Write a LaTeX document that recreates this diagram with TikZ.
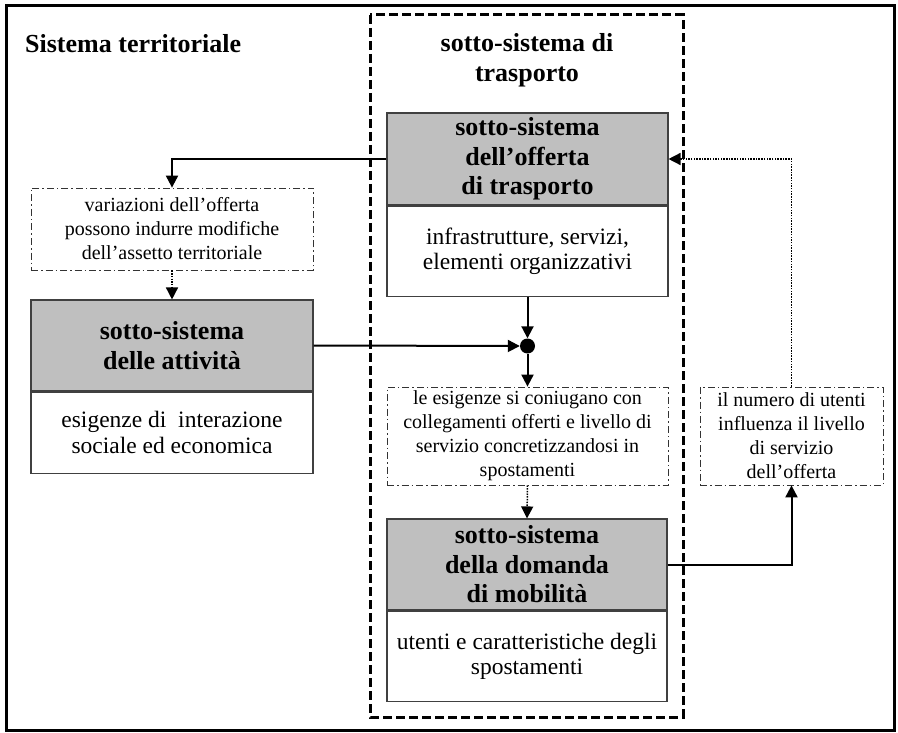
\documentclass[tikz,border=0pt]{standalone}
\usepackage{fontspec}
\setmainfont{Liberation Serif}
\usetikzlibrary{arrows.meta}

\begin{document}
\begin{tikzpicture}[x=1pt,y=-1pt,
  headbox/.style={draw=black!75, line width=1.1pt, fill=gray!50, inner sep=0pt,
    align=center, font=\fontsize{26}{29.5}\selectfont\bfseries},
  bodybox/.style={draw=black!75, line width=1.1pt, fill=white, inner sep=0pt,
    align=center, font=\fontsize{23.5}{25.5}\selectfont},
  notebox/.style={draw=black!80, line width=0.8pt,
    dash pattern=on 7pt off 3pt on 1.5pt off 3pt, inner sep=0pt,
    align=center, font=\fontsize{20}{24}\selectfont},
  flow/.style={line width=2pt, -{Triangle[length=12pt,width=12pt]}},
  hint/.style={line width=1.5pt, dash pattern=on 1.5pt off 1.2pt,
    -{Triangle[length=12pt,width=12pt]}},
  title/.style={inner sep=0pt, font=\fontsize{26}{30}\selectfont\bfseries}]

  \useasboundingbox (0,0) rectangle (898,733);

  % outer frame of the territorial system
  \draw[line width=3pt] (6,6) rectangle (894,730);
  \node[title, anchor=base west] (sysT) at (25,53) {Sistema territoriale};

  % transport sub-system (dashed)
  \draw[line width=3pt, dash pattern=on 9pt off 4pt] (370,15) rectangle (683,717);
  \node[title, align=center, anchor=north] (subT) at (527,33) {sotto-sistema di\\trasporto};

  % supply sub-system
  \node[headbox, minimum width=281pt, minimum height=92pt] (offH) at (527.5,159)
    {sotto-sistema\\dell’offerta\\di trasporto};
  \node[bodybox, minimum width=281pt, minimum height=90pt, anchor=north] (offB) at (offH.south)
    {infrastrutture, servizi,\\elementi organizzativi};

  % activity sub-system
  \node[notebox, minimum width=282pt, minimum height=82pt] (var) at (172,229)
    {variazioni dell’offerta\\possono indurre modifiche\\dell’assetto territoriale};
  \node[headbox, minimum width=282pt, minimum height=91pt] (attH) at (172,345.5)
    {sotto-sistema\\delle attività};
  \node[bodybox, minimum width=282pt, minimum height=81pt, anchor=north] (attB) at (attH.south)
    {esigenze di~ interazione\\sociale ed economica};

  % junction
  \node[circle, fill=black, minimum size=15pt, inner sep=0pt] (dot) at (527.5,346) {};

  \node[notebox, minimum width=281pt, minimum height=98pt] (esi) at (527.5,436)
    {le esigenze si coniugano con\\collegamenti offerti e livello di\\servizio concretizzandosi in\\spostamenti};

  % demand sub-system
  \node[headbox, minimum width=280pt, minimum height=91pt] (domH) at (527,564.5)
    {sotto-sistema\\della domanda\\di mobilità};
  \node[bodybox, minimum width=280pt, minimum height=90pt, anchor=north] (domB) at (domH.south)
    {utenti e caratteristiche degli\\spostamenti};

  \node[notebox, minimum width=183pt, minimum height=98pt] (num) at (791.5,436)
    {il numero di utenti\\influenza il livello\\di servizio\\dell’offerta};

  % connectors
  \coordinate (c1) at (172,159);
  \coordinate (c2) at (791.5,564.5);
  \coordinate (c3) at (791.5,159);

  \draw[flow] (offH.west) -- (c1) -- (var.north);
  \draw[hint] (var.south) -- (attH.north);
  \draw[flow] (attH.east) -- (dot.west);
  \draw[flow] (offB.south) -- (dot.north);
  \draw[flow] (dot.south) -- (esi.north);
  \draw[hint] (esi.south) -- (domH.north);
  \draw[flow] (domH.east) -- (c2) -- (num.south);
  \draw[hint] (num.north) -- (c3) -- (offH.east);
\end{tikzpicture}
\end{document}
